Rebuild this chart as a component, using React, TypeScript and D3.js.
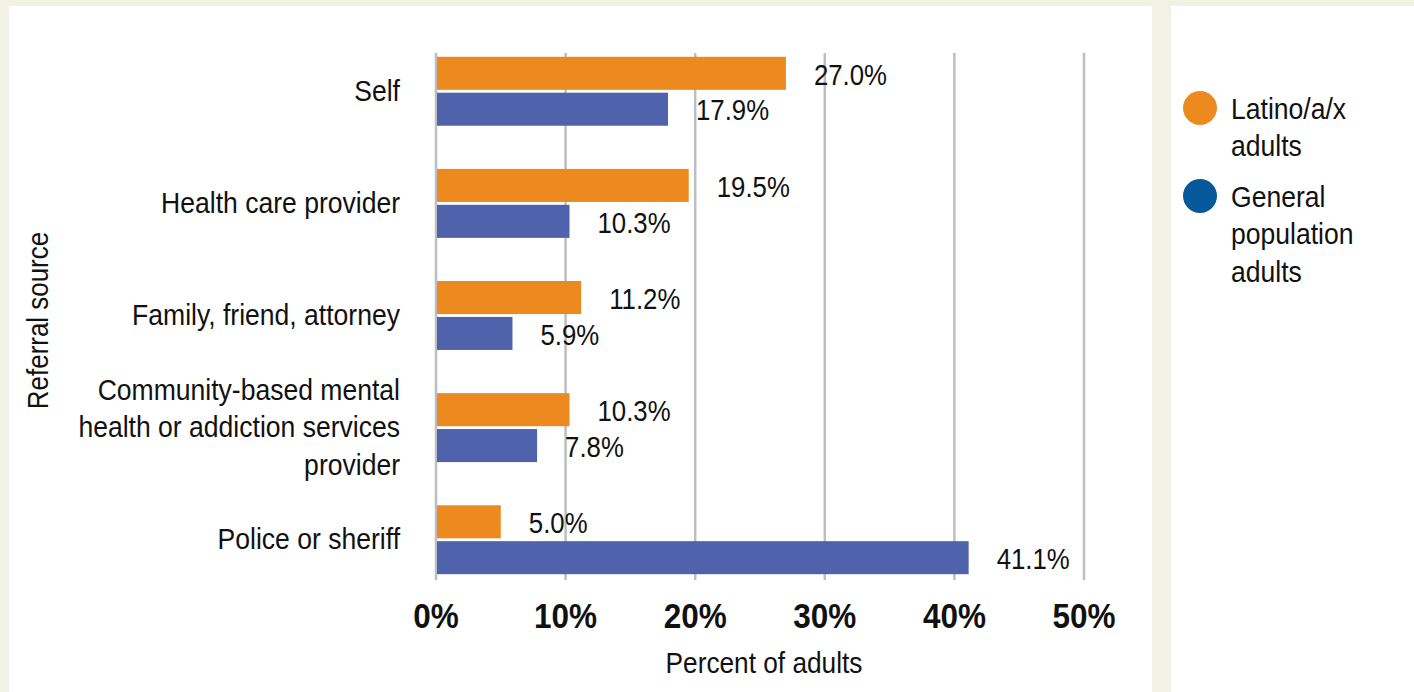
import * as d3 from "d3";
import type { ReactNode } from "react";

const categories = [
  "Self",
  "Health care provider",
  "Family, friend, attorney",
  "Community-based mental health or addiction services provider",
  "Police or sheriff",
];
const categoryLines = [
  ["Self"],
  ["Health care provider"],
  ["Family, friend, attorney"],
  ["Community-based mental", "health or addiction services", "provider"],
  ["Police or sheriff"],
];
const latinoValues = [27.0, 19.5, 11.2, 10.3, 5.0];
const generalValues = [17.9, 10.3, 5.9, 7.8, 41.1];
const seriesNames = ["latino", "general"];
const xTicks = [0, 10, 20, 30, 40, 50];
const legendItems = [
  { lines: ["Latino/a/x", "adults"], color: "#ec8a20" },
  { lines: ["General", "population", "adults"], color: "#05589a" },
];

const W = 1414;
const H = 692;
const BG = "#f1f2e5";
const ORANGE = "#ec8a20";
const BLUE = "#4f63ad";
const GRID = "#bcbec1";
const FONT = "'Liberation Sans', Arial, sans-serif";
const SX = 0.86; // fake a condensed face

const PLOT = { left: 436, right: 1084, top: 35.5, bottom: 595.5 };
const GRID_Y = { top: 53, bottom: 580 };

// text whose cap-height centre sits on cy, squeezed horizontally
const T = ({
  x,
  cy,
  size,
  anchor = "start",
  weight = "normal",
  sx = SX,
  lines,
  lh = 37.5,
  rotate = 0,
}: {
  x: number;
  cy: number;
  size: number;
  anchor?: string;
  weight?: string;
  sx?: number;
  lines: ReactNode[];
  lh?: number;
  rotate?: number;
}) => {
  const base = size * 0.358;
  return (
    <g transform={`translate(${x}, ${cy}) rotate(${rotate}) scale(${sx}, 1)`}>
      <text
        textAnchor={anchor}
        fontSize={size}
        fontWeight={weight}
        fill="#111"
        fontFamily={FONT}
      >
        {lines.map((l, j) => (
          <tspan key={j} x={0} y={base + j * lh}>
            {l}
          </tspan>
        ))}
      </text>
    </g>
  );
};

export default function App() {
  const x = d3.scaleLinear().domain([0, 50]).range([PLOT.left, PLOT.right]);
  const y = d3
    .scaleBand<string>()
    .domain(categories)
    .range([PLOT.top, PLOT.bottom])
    .paddingInner(0.385)
    .paddingOuter(0.19);
  const inner = d3
    .scaleBand<string>()
    .domain(seriesNames)
    .range([0, y.bandwidth()])
    .paddingInner(0.08);

  const rows = categories.map((c, i) => ({
    c,
    lines: categoryLines[i],
    vals: [
      { s: "latino", v: latinoValues[i], color: ORANGE },
      { s: "general", v: generalValues[i], color: BLUE },
    ],
  }));

  return (
    <div style={{ position: "absolute", left: 0, top: 0 }}>
      <svg width={W} height={H} style={{ display: "block" }}>
        <rect x={0} y={0} width={W} height={H} fill={BG} />
        <rect x={9} y={6} width={1143} height={H - 6} fill="#fff" />
        <rect x={1171} y={6} width={W - 1171} height={H - 6} fill="#fff" />

        {/* gridlines */}
        {xTicks.map((t) => (
          <line
            key={t}
            x1={x(t)}
            x2={x(t)}
            y1={GRID_Y.top}
            y2={GRID_Y.bottom}
            stroke={GRID}
            strokeWidth={2.5}
          />
        ))}

        {/* bars + value labels */}
        {rows.map((r) => (
          <g key={r.c} transform={`translate(0, ${y(r.c)})`}>
            {r.vals.map((d) => (
              <g key={d.s}>
                <rect
                  x={x(0) + 1}
                  y={inner(d.s)}
                  width={x(d.v) - x(0) - 1}
                  height={inner.bandwidth()}
                  fill={d.color}
                />
                <T
                  x={x(d.v) + 28}
                  cy={(inner(d.s) ?? 0) + inner.bandwidth() / 2 + 0.5}
                  size={30}
                  lines={[`${d.v.toFixed(1)}%`]}
                />
              </g>
            ))}
          </g>
        ))}

        {/* category labels */}
        {rows.map((r) => {
          const cy = (y(r.c) ?? 0) + y.bandwidth() / 2;
          const lh = 37.5;
          return (
            <T
              key={r.c}
              x={400}
              cy={cy - ((r.lines.length - 1) * lh) / 2 - 1}
              size={30}
              anchor="end"
              sx={0.885}
              lines={r.lines}
              lh={lh}
            />
          );
        })}

        {/* x tick labels */}
        {xTicks.map((t) => (
          <T
            key={t}
            x={x(t)}
            cy={615.5}
            size={35}
            weight="bold"
            anchor="middle"
            sx={0.9}
            lines={[`${t}%`]}
          />
        ))}

        <T
          x={(PLOT.left + PLOT.right) / 2 + 4}
          cy={663}
          size={29}
          anchor="middle"
          sx={0.905}
          lines={["Percent of adults"]}
        />

        <T
          x={38}
          cy={320.5}
          size={29}
          anchor="middle"
          rotate={-90}
          sx={0.895}
          lines={["Referral source"]}
        />

        {/* legend */}
        {legendItems.map((item, i) => {
          const top = i === 0 ? 108 : 196;
          return (
            <g key={i}>
              <circle cx={1200} cy={top} r={17} fill={item.color} />
              <T
                x={1231}
                cy={top}
                size={30}
                sx={0.885}
                lines={item.lines}
                lh={37.5}
              />
            </g>
          );
        })}
      </svg>
    </div>
  );
}
